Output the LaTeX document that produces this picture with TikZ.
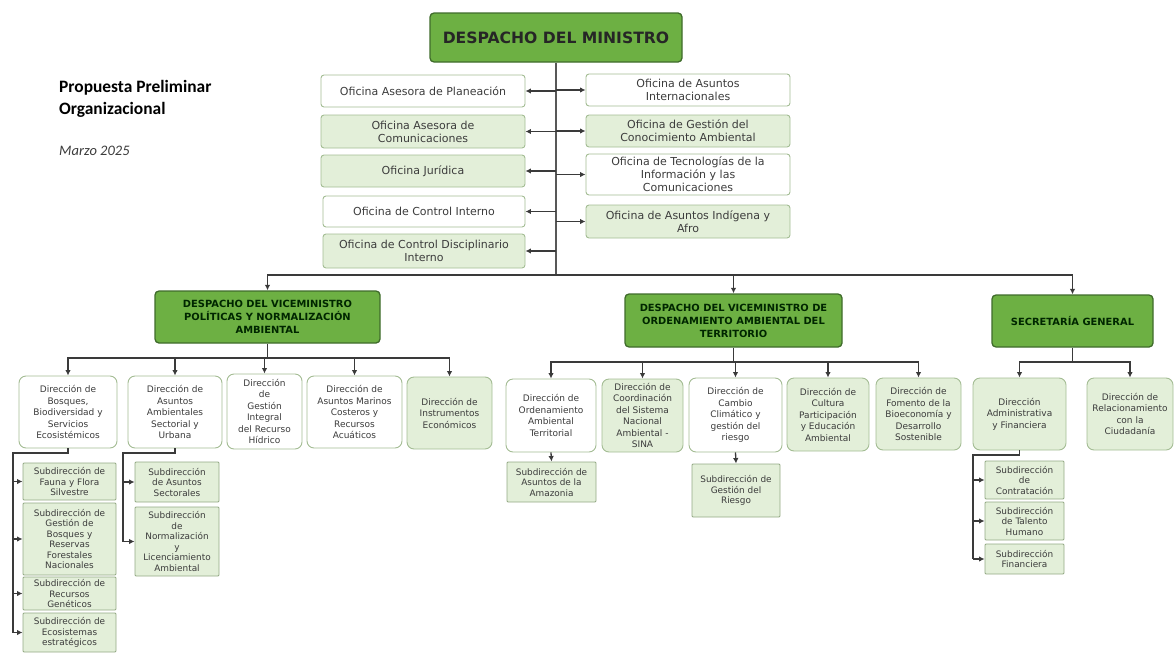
\documentclass[tikz,border=0pt]{standalone}
\usepackage{fontspec}
\usetikzlibrary{arrows.meta}
\setmainfont{DejaVu Sans}
\newfontfamily\calibri{Carlito}
\definecolor{verdeosc}{HTML}{6DB043}
\definecolor{bordeosc}{HTML}{3F6B2B}
\definecolor{verdecla}{HTML}{E3EFD9}
\definecolor{bordecla}{HTML}{A3BC93}
\definecolor{textgris}{HTML}{3C3C3C}
\definecolor{lineagris}{HTML}{3A3A3A}
\begin{document}
\begin{tikzpicture}[x=1pt,y=-1pt,
    ministro/.style={draw=bordeosc,fill=verdeosc,rounded corners=4,line width=1.3pt,align=center,inner sep=1pt,
        font=\bfseries\fontsize{15.6}{17}\selectfont,text=black!85},
    vice/.style={ministro,font=\bfseries\fontsize{9.9}{13}\selectfont,text=black!70!green!50!black},
    oficina/.style={draw=bordecla,fill=white,rounded corners=3,line width=0.9pt,align=center,inner sep=1pt,
        font=\fontsize{11}{13}\selectfont,text=textgris},
    oficinav/.style={oficina,fill=verdecla},
    direccion/.style={oficina,rounded corners=7,font=\fontsize{9}{11.5}\selectfont},
    direccionv/.style={direccion,fill=verdecla},
    subdir/.style={oficina,fill=verdecla,rounded corners=1,draw=bordecla!90!black,font=\fontsize{8.9}{10.5}\selectfont},
    linea/.style={draw=lineagris,line width=1.3pt}]
\useasboundingbox (0,0) rectangle (1174,653);

% titulo
\node[anchor=north west,align=left,inner sep=0pt,font=\calibri\bfseries\fontsize{17.4}{22}\selectfont] (tit) at (59,80) {Propuesta Preliminar\\Organizacional};
\node[anchor=west,inner sep=0pt,font=\calibri\itshape\fontsize{14.5}{15}\selectfont,text=textgris] (fecha) at (59,151) {Marzo 2025};

% despacho
\node[ministro,minimum width=252,minimum height=49] (min) at (556,37.5) {DESPACHO DEL MINISTRO};

% oficinas asesoras
\node[oficina,minimum width=204,minimum height=32] (oap) at (423,91) {Oficina Asesora de Planeación};
\node[oficinav,minimum width=204,minimum height=33] (oac) at (423,131.5) {Oficina Asesora de\\Comunicaciones};
\node[oficinav,minimum width=204,minimum height=32] (oj) at (423,171) {Oficina Jurídica};
\node[oficina,minimum width=202,minimum height=31] (oci) at (424,211.5) {Oficina de Control Interno};
\node[oficinav,minimum width=202,minimum height=34] (ocd) at (424,251) {Oficina de Control Disciplinario\\Interno};
\node[oficina,minimum width=204,minimum height=32] (oai) at (688,90) {Oficina de Asuntos\\Internacionales};
\node[oficinav,minimum width=204,minimum height=32] (ogc) at (688,131) {Oficina de Gestión del\\Conocimiento Ambiental};
\node[oficina,minimum width=204,minimum height=41] (oti) at (688,174.5) {Oficina de Tecnologías de la\\Información y las\\Comunicaciones};
\node[oficinav,minimum width=204,minimum height=33] (oaa) at (688,221.5) {Oficina de Asuntos Indígena y\\Afro};

% viceministerios
\node[vice,minimum width=225,minimum height=52] (vm1) at (267.5,317) {DESPACHO DEL VICEMINISTRO\\POLÍTICAS Y NORMALIZACIÓN\\AMBIENTAL};
\node[vice,minimum width=217,minimum height=53] (vm2) at (733.5,320.5) {DESPACHO DEL VICEMINISTRO DE\\ORDENAMIENTO AMBIENTAL DEL\\TERRITORIO};
\node[vice,minimum width=161,minimum height=52] (sg) at (1072.5,321) {SECRETARÍA GENERAL};

% direcciones
\node[direccion,minimum width=98,minimum height=72] (d1) at (68,412) {Dirección de\\Bosques,\\Biodiversidad y\\Servicios\\Ecosistémicos};
\node[direccion,minimum width=94,minimum height=72] (d2) at (175,412) {Dirección de\\Asuntos\\Ambientales\\Sectorial y\\Urbana};
\node[direccion,minimum width=75,minimum height=75] (d3) at (264.5,411.5) {Dirección\\de\\Gestión\\Integral\\del Recurso\\Hídrico};
\node[direccion,minimum width=95,minimum height=72] (d4) at (354.5,412) {Dirección de\\Asuntos Marinos\\Costeros y\\Recursos\\Acuáticos};
\node[direccionv,minimum width=85,minimum height=72] (d5) at (449.5,413) {Dirección de\\Instrumentos\\Económicos};
\node[direccion,minimum width=90,minimum height=73] (d6) at (551,415.5) {Dirección de\\Ordenamiento\\Ambiental\\Territorial};
\node[direccionv,minimum width=81,minimum height=73] (d7) at (642.5,415.5) {Dirección de\\Coordinación\\del Sistema\\Nacional\\Ambiental -\\SINA};
\node[direccion,minimum width=93,minimum height=74] (d8) at (735.5,415) {Dirección de\\Cambio\\Climático y\\gestión del\\riesgo};
\node[direccionv,minimum width=82,minimum height=73] (d9) at (828,414.5) {Dirección de\\Cultura\\Participación\\y Educación\\Ambiental};
\node[direccionv,minimum width=85,minimum height=72] (d10) at (918.5,414) {Dirección de\\Fomento de la\\Bioeconomía y\\Desarrollo\\Sostenible};
\node[direccionv,minimum width=93,minimum height=72] (d11) at (1019.5,414) {Dirección\\Administrativa\\y Financiera};
\node[direccionv,minimum width=86,minimum height=72] (d12) at (1130,414) {Dirección de\\Relacionamiento\\con la\\Ciudadanía};

% subdirecciones
\node[subdir,minimum width=93,minimum height=37] (s1) at (69.5,481.5) {Subdirección de\\Fauna y Flora\\Silvestre};
\node[subdir,minimum width=93,minimum height=72] (s2) at (69.5,539) {Subdirección de\\Gestión de\\Bosques y\\Reservas\\Forestales\\Nacionales};
\node[subdir,minimum width=93,minimum height=33] (s3) at (69.5,593.5) {Subdirección de\\Recursos\\Genéticos};
\node[subdir,minimum width=93,minimum height=39] (s4) at (69.5,632.5) {Subdirección de\\Ecosistemas\\estratégicos};
\node[subdir,minimum width=84,minimum height=40] (s5) at (177,482) {Subdirección\\de Asuntos\\Sectorales};
\node[subdir,minimum width=84,minimum height=69] (s6) at (177,541.5) {Subdirección\\de\\Normalización\\y\\Licenciamiento\\Ambiental};
\node[subdir,minimum width=89,minimum height=40] (s7) at (551.5,482) {Subdirección de\\Asuntos de la\\Amazonia};
\node[subdir,minimum width=88,minimum height=53] (s8) at (736,490.5) {Subdirección de\\Gestión del\\Riesgo};
\node[subdir,minimum width=79,minimum height=38] (s9) at (1024.5,480) {Subdirección\\de\\Contratación};
\node[subdir,minimum width=79,minimum height=38] (s10) at (1024.5,521) {Subdirección\\de Talento\\Humano};
\node[subdir,minimum width=79,minimum height=30] (s11) at (1024.5,559) {Subdirección\\Financiera};

% puntos de quiebre
\coordinate (bus) at (556,275);
\coordinate (b1) at (267.5,358);
\coordinate (b2) at (733.5,362);
\coordinate (b3) at (1072.5,362);
\coordinate (k1) at (13,453);
\coordinate (k2) at (123,453);
\coordinate (k3) at (973,455);

\draw[linea,line width=2.2pt,draw=lineagris!85] (min.south) -- (bus);
\draw[linea] (vm1.south) -- (b1);
\draw[linea] (vm2.south) -- (b2);
\draw[linea] (sg.south) -- (b3);
\draw[linea] (d1.south) |- (k1) -- (k1 |- s4.west);
\draw[linea] (d2.south) |- (k2) -- (k2 |- s6.west);
\draw[linea] (d11.south) |- (k3) -- (k3 |- s11.west);

\begin{scope}[->,>={Latex[length=5.5pt,width=5.5pt]},linea]
    \foreach \o in {oap,oac,oj,oci,ocd}
        \draw (\o.east -| min.south) -- (\o.east);
    \foreach \o in {oai,ogc,oti,oaa}
        \draw (\o.west -| min.south) -- (\o.west);
    \foreach \v in {vm1,vm2,sg}
        \draw (bus) -| (\v.north);
    \foreach \d in {d1,d2,d3,d4,d5}
        \draw (b1) -| (\d.north);
    \foreach \d in {d6,d7,d8,d9,d10}
        \draw (b2) -| (\d.north);
    \foreach \d in {d11,d12}
        \draw (b3) -| (\d.north);
    \foreach \s in {s1,s2,s3,s4}
        \draw (k1 |- \s.west) -- (\s.west);
    \foreach \s in {s5,s6}
        \draw (k2 |- \s.west) -- (\s.west);
    \foreach \s in {s9,s10,s11}
        \draw (k3 |- \s.west) -- (\s.west);
    \draw (d6.south) -- (s7.north);
    \draw (d8.south) -- (s8.north);
\end{scope}
\end{tikzpicture}
\end{document}
